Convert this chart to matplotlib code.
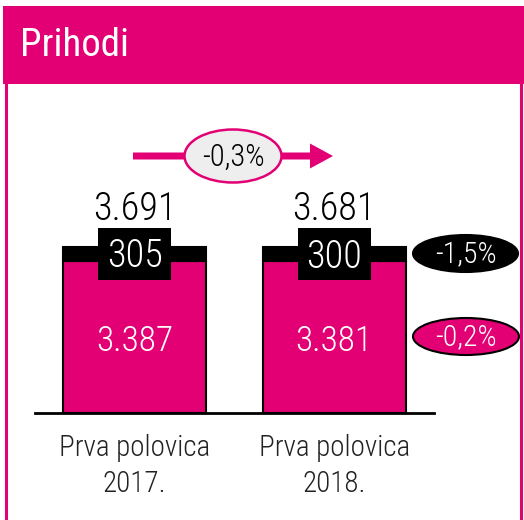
import matplotlib.pyplot as plt
from matplotlib import font_manager
from matplotlib.patches import Rectangle, Ellipse, FancyArrow

# pick a narrow, light sans if one is installed
installed = {f.name for f in font_manager.fontManager.ttflist}
for name in ["Roboto Condensed", "Archivo Narrow", "PT Sans Narrow",
             "Liberation Sans Narrow", "Roboto"]:
    if name in installed:
        FONT = name
        break
else:
    FONT = "DejaVu Sans"
plt.rcParams['font.family'] = [FONT, 'DejaVu Sans']
plt.rcParams['font.weight'] = 'light'

MAGENTA = "#e20074"

title = "Prihodi"
categories = ["Prva polovica\n2017.", "Prva polovica\n2018."]
base = [3387, 3381]
top = [305, 300]
totals = [3691, 3681]
base_labels = ["3.387", "3.381"]
top_labels = ["305", "300"]
total_labels = ["3.691", "3.681"]
change_total = "-0,3%"
change_top = "-1,5%"
change_base = "-0,2%"

W, H = 524, 520
fig = plt.figure(figsize=(W / 100, H / 100), dpi=100)

# overlay in pixel coordinates for the frame and callouts
ov = fig.add_axes([0, 0, 1, 1])
ov.set_xlim(0, W)
ov.set_ylim(H, 0)
ov.axis("off")
ov.add_patch(Rectangle((3, 6), W - 3, 78, color=MAGENTA, lw=0))
ov.plot([5.5, 5.5], [84, H], color=MAGENTA, lw=2.2)
ov.plot([520.5, 520.5], [84, H], color=MAGENTA, lw=2.2)
ov.text(20, 45, title, color="white", fontsize=28, fontweight="normal",
        va="center", ha="left")

# bars
px_per_unit = (413 - 247) / totals[0]
px_per_cat = 199.5
ax = fig.add_axes([35 / W, 1 - 413 / H, 399 / W, (413 - 90) / H])
ax.set_xlim(-0.5, 1.5)
ax.set_ylim(0, (413 - 90) / px_per_unit)
x = range(len(categories))
ax.bar(x, base, width=0.717, color=MAGENTA, edgecolor="black", lw=1.5)
ax.bar(x, top, bottom=base, width=0.717, color="black", edgecolor="black", lw=1.5)
for s in ["top", "left", "right"]:
    ax.spines[s].set_visible(False)
ax.spines["bottom"].set_linewidth(2)
ax.set_yticks([])
ax.set_xticks([])
ax.patch.set_alpha(0)

box_w = 73 / px_per_cat
box_h = 52 / px_per_unit
for i in x:
    ax.annotate(base_labels[i], (i, base[i] / 2), xytext=(0, -3),
                textcoords="offset points", color="white", fontsize=25.5,
                ha="center", va="center")
    # black label box straddling the top of the stack
    yc = totals[i] - 7 / px_per_unit
    ax.add_patch(Rectangle((i - box_w / 2, yc - box_h / 2), box_w, box_h,
                           fc="black", ec="none", zorder=3))
    ax.annotate(top_labels[i], (i, totals[i]), xytext=(0, -7),
                textcoords="offset points", color="white", fontsize=27.5,
                ha="center", va="center", zorder=4)
    ax.annotate(total_labels[i], (i, totals[i]), xytext=(0, 27.5),
                textcoords="offset points", color="black", fontsize=27.5,
                ha="center", va="center")
    ax.annotate(categories[i], (i, 0), xytext=(0, -38),
                textcoords="offset points", color="#222222", fontsize=21,
                ha="center", va="center", linespacing=1.38)

# change callouts
ov.add_patch(FancyArrow(133, 156, 200, 0, width=7, head_width=25,
                        head_length=23, length_includes_head=True,
                        color=MAGENTA, lw=0))
ov.add_patch(Ellipse((233, 156), 97, 53, fc="#eeeeee", ec=MAGENTA, lw=1.8))
ov.text(233, 157, change_total, fontsize=22, ha="center", va="center")
ov.add_patch(Ellipse((465.5, 253.5), 105, 37, fc="black", ec="black", lw=1.5))
ov.text(465.5, 254, change_top, color="white", fontsize=21.5, ha="center", va="center")
ov.add_patch(Ellipse((466, 336.5), 106, 37, fc=MAGENTA, ec="black", lw=1.5))
ov.text(466, 337, change_base, color="white", fontsize=21.5, ha="center", va="center")

fig.savefig("out.png", dpi=100)
